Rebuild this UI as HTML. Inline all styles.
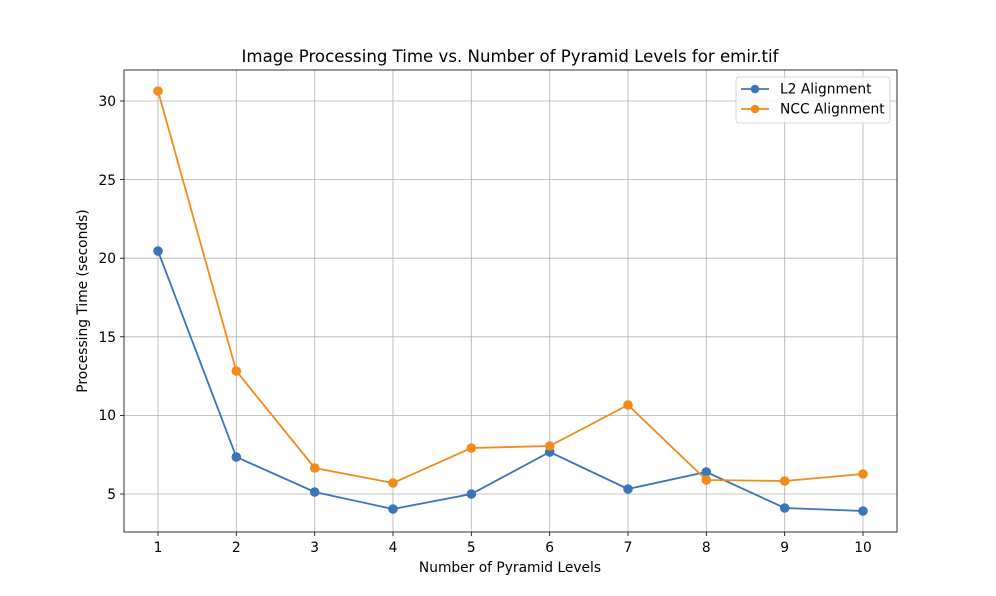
<!DOCTYPE html>
<html><head><style>body{margin:0;background:#fff}svg{display:block}</style></head><body>
<svg width="996" height="596" xmlns="http://www.w3.org/2000/svg" font-family="DejaVu Sans, sans-serif">
<rect width="996" height="596" fill="#fff"/>
<g stroke="#b0b0b0" stroke-width="0.8">
<line x1="158" y1="70" x2="158" y2="532"/><line x1="236.3" y1="70" x2="236.3" y2="532"/><line x1="314.7" y1="70" x2="314.7" y2="532"/><line x1="393" y1="70" x2="393" y2="532"/><line x1="471.3" y1="70" x2="471.3" y2="532"/><line x1="549.7" y1="70" x2="549.7" y2="532"/><line x1="628" y1="70" x2="628" y2="532"/><line x1="706.3" y1="70" x2="706.3" y2="532"/><line x1="784.7" y1="70" x2="784.7" y2="532"/><line x1="863" y1="70" x2="863" y2="532"/>
<line x1="124" y1="494" x2="897" y2="494"/><line x1="124" y1="415.4" x2="897" y2="415.4"/><line x1="124" y1="336.8" x2="897" y2="336.8"/><line x1="124" y1="258.2" x2="897" y2="258.2"/><line x1="124" y1="179.6" x2="897" y2="179.6"/><line x1="124" y1="101" x2="897" y2="101"/>
</g>
<rect x="124" y="70" width="773" height="462" fill="none" stroke="#000" stroke-width="0.8"/>
<g stroke="#000" stroke-width="0.8">
<line x1="158" y1="532" x2="158" y2="536"/><line x1="236.3" y1="532" x2="236.3" y2="536"/><line x1="314.7" y1="532" x2="314.7" y2="536"/><line x1="393" y1="532" x2="393" y2="536"/><line x1="471.3" y1="532" x2="471.3" y2="536"/><line x1="549.7" y1="532" x2="549.7" y2="536"/><line x1="628" y1="532" x2="628" y2="536"/><line x1="706.3" y1="532" x2="706.3" y2="536"/><line x1="784.7" y1="532" x2="784.7" y2="536"/><line x1="863" y1="532" x2="863" y2="536"/>
<line x1="120" y1="494" x2="124" y2="494"/><line x1="120" y1="415.4" x2="124" y2="415.4"/><line x1="120" y1="336.8" x2="124" y2="336.8"/><line x1="120" y1="258.2" x2="124" y2="258.2"/><line x1="120" y1="179.6" x2="124" y2="179.6"/><line x1="120" y1="101" x2="124" y2="101"/>
</g>
<g font-size="13.8" text-anchor="middle" fill="#000">
<text x="158" y="552">1</text><text x="236.3" y="552">2</text><text x="314.7" y="552">3</text><text x="393" y="552">4</text><text x="471.3" y="552">5</text><text x="549.7" y="552">6</text><text x="628" y="552">7</text><text x="706.3" y="552">8</text><text x="784.7" y="552">9</text><text x="863" y="552">10</text>
</g>
<g font-size="13.8" text-anchor="end" fill="#000">
<text x="116" y="499">5</text><text x="116" y="420">10</text><text x="116" y="342">15</text><text x="116" y="263">20</text><text x="116" y="185">25</text><text x="116" y="106">30</text>
</g>
<text x="510" y="572" font-size="13.8" text-anchor="middle">Number of Pyramid Levels</text>
<text transform="translate(87,301) rotate(-90)" font-size="13.8" text-anchor="middle">Processing Time (seconds)</text>
<text x="510" y="62" font-size="16.6" text-anchor="middle">Image Processing Time vs. Number of Pyramid Levels for emir.tif</text>
<g fill="#3a75b7" stroke="#3a75b7">
<polyline fill="none" stroke-width="1.8" points="158,251 236.3,457 314.7,492 393,509 471.3,494 549.7,452 628,489 706.3,472 784.7,508 863,511"/>
<circle cx="158" cy="251" r="4.3"/><circle cx="236.3" cy="457" r="4.3"/><circle cx="314.7" cy="492" r="4.3"/><circle cx="393" cy="509" r="4.3"/><circle cx="471.3" cy="494" r="4.3"/><circle cx="549.7" cy="452" r="4.3"/><circle cx="628" cy="489" r="4.3"/><circle cx="706.3" cy="472" r="4.3"/><circle cx="784.7" cy="508" r="4.3"/><circle cx="863" cy="511" r="4.3"/>
</g>
<g fill="#f28a1c" stroke="#f28a1c">
<polyline fill="none" stroke-width="1.8" points="158,91 236.3,371 314.7,468 393,483 471.3,448 549.7,446 628,405 706.3,480 784.7,481 863,474"/>
<circle cx="158" cy="91" r="4.3"/><circle cx="236.3" cy="371" r="4.3"/><circle cx="314.7" cy="468" r="4.3"/><circle cx="393" cy="483" r="4.3"/><circle cx="471.3" cy="448" r="4.3"/><circle cx="549.7" cy="446" r="4.3"/><circle cx="628" cy="405" r="4.3"/><circle cx="706.3" cy="480" r="4.3"/><circle cx="784.7" cy="481" r="4.3"/><circle cx="863" cy="474" r="4.3"/>
</g>
<rect x="736" y="77" width="154" height="46" rx="3" fill="#fff" fill-opacity="0.8" stroke="#ccc" stroke-width="0.8"/>
<line x1="741" y1="89" x2="769" y2="89" stroke="#3a75b7" stroke-width="1.8"/><circle cx="755" cy="89" r="4.3" fill="#3a75b7"/>
<line x1="741" y1="109" x2="769" y2="109" stroke="#f28a1c" stroke-width="1.8"/><circle cx="755" cy="109" r="4.3" fill="#f28a1c"/>
<text x="780" y="93.5" font-size="13.8">L2 Alignment</text>
<text x="780" y="113.5" font-size="13.8">NCC Alignment</text>
</svg>
</body></html>
